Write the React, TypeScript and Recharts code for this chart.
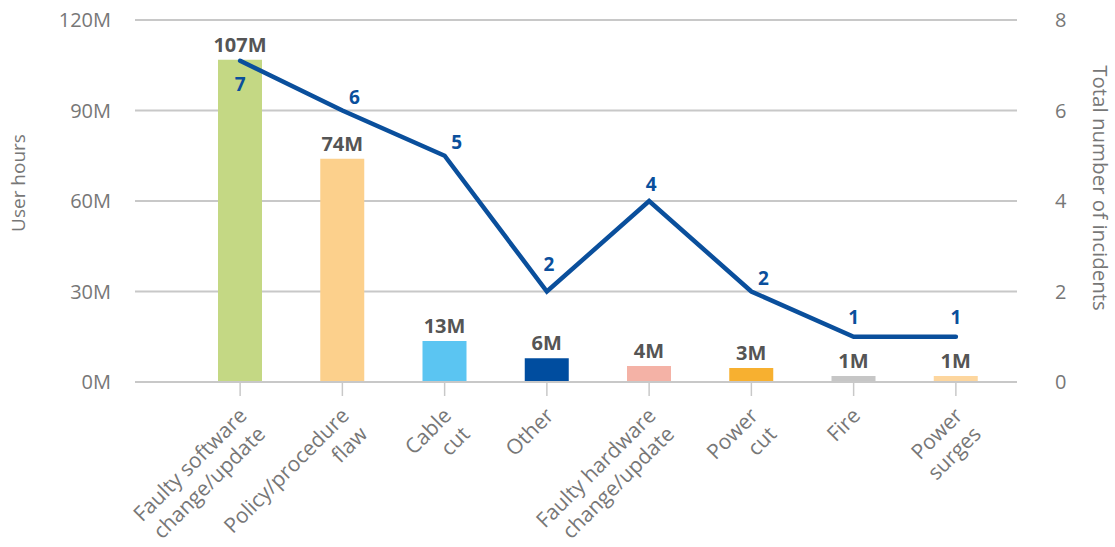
import { ComposedChart, Bar, Line, XAxis, YAxis, CartesianGrid, Cell, LabelList } from 'recharts';

const categories = [
    'Faulty software\nchange/update',
    'Policy/procedure\nflaw',
    'Cable\ncut',
    'Other',
    'Faulty hardware\nchange/update',
    'Power\ncut',
    'Fire',
    'Power\nsurges',
];
// bar heights as drawn, labels as printed
const userHours = [106.8, 74, 13.6, 7.9, 5.3, 4.6, 2, 2];
const userHourLabels = ['107M', '74M', '13M', '6M', '4M', '3M', '1M', '1M'];
const incidents = [7.1, 6, 5, 2, 4, 2, 1, 1];
const barColors = ['#c4d884', '#fcd08c', '#5bc5f2', '#004d9f', '#f4b2a6', '#f7b030', '#c6c6c6', '#fdd69e'];
const hourTicks = [0, 30, 60, 90, 120];
const incidentTicks = [0, 2, 4, 6, 8];

const data = categories.map((name, i) => ({
    name,
    hours: userHours[i],
    hoursLabel: userHourLabels[i],
    incidents: incidents[i],
}));

const BLUE = '#0a4f9c';
const GRID = '#c8c8c8';
const TEXT = '#777777';
const FONT = '"Open Sans", sans-serif';

function CategoryTick(props: any) {
    const { x, y, payload } = props;
    const lines = String(payload.value).split('\n');
    return (
        <g transform={`translate(${x + 8},${y + 19}) rotate(-45)`}>
            <text textAnchor="end" fill={TEXT} fontSize={21} fontFamily={FONT}>
                {lines.map((line, i) => (
                    <tspan key={i} x={0} dy={i === 0 ? 0 : 26}>{line}</tspan>
                ))}
            </text>
        </g>
    );
}

function IncidentLabel(props: any) {
    const { x, y, index, value } = props;
    const prev = incidents[index - 1];
    const next = incidents[index + 1];
    let dx = 12;
    let dy = -7;
    if (index === 0) {
        dx = 0; dy = 30;
    } else if (next === undefined || prev === value || next === value) {
        dx = 0; dy = -13;
    } else if (prev > value && next > value) {
        dx = 2; dy = -21;
    } else if (prev < value && next < value) {
        dx = 2; dy = -10;
    }
    return (
        <text x={x + dx} y={y + dy} textAnchor="middle" fill={BLUE} fontSize={19} fontWeight={700} fontFamily={FONT}>
            {Math.round(value)}
        </text>
    );
}

export default function App() {
    return (
        <div style={{ position: 'absolute', left: 0, top: 0, width: 1115, height: 547, background: '#fff', fontFamily: FONT }}>
            <ComposedChart width={1115} height={547} data={data} margin={{ top: 20, right: 0, bottom: 0, left: 0 }}>
                <CartesianGrid yAxisId="left" vertical={false} stroke={GRID} strokeWidth={2} />
                <XAxis
                    dataKey="name"
                    interval={0}
                    height={165}
                    padding={{ left: 54, right: 10 }}
                    axisLine={{ stroke: GRID, strokeWidth: 2 }}
                    tickLine={{ stroke: GRID, strokeWidth: 1.5 }}
                    tickSize={14}
                    tickMargin={2}
                    tick={<CategoryTick />}
                />
                <YAxis
                    yAxisId="left"
                    width={135}
                    domain={[0, 120]}
                    ticks={hourTicks}
                    tickFormatter={(v) => `${v}M`}
                    axisLine={false}
                    tickLine={false}
                    tickSize={16}
                    tickMargin={8}
                    tick={{ fill: TEXT, fontSize: 20, fontFamily: FONT }}
                />
                <YAxis
                    yAxisId="right"
                    orientation="right"
                    width={98}
                    domain={[0, 8]}
                    ticks={incidentTicks}
                    axisLine={false}
                    tickLine={false}
                    tickSize={30}
                    tickMargin={8}
                    tick={{ fill: TEXT, fontSize: 20, fontFamily: FONT }}
                />
                <Bar yAxisId="left" dataKey="hours" barSize={44} isAnimationActive={false}>
                    {data.map((_, i) => (
                        <Cell key={`bar-${i}`} fill={barColors[i]} />
                    ))}
                    <LabelList
                        dataKey="hoursLabel"
                        position="top"
                        offset={8}
                        fill="#555555"
                        fontSize={20}
                        fontWeight={700}
                        fontFamily={FONT}
                    />
                </Bar>
                <Line
                    yAxisId="right"
                    type="linear"
                    dataKey="incidents"
                    stroke={BLUE}
                    strokeWidth={4.5}
                    strokeLinecap="round"
                    dot={false}
                    activeDot={false}
                    isAnimationActive={false}
                >
                    <LabelList dataKey="incidents" content={<IncidentLabel />} />
                </Line>
            </ComposedChart>
            <div
                style={{
                    position: 'absolute', left: 18, top: 183, transform: 'translate(-50%, -50%) rotate(-90deg)',
                    whiteSpace: 'nowrap', fontSize: 19, lineHeight: 1, color: TEXT,
                }}
            >
                User hours
            </div>
            <div
                style={{
                    position: 'absolute', left: 1101, top: 188, transform: 'translate(-50%, -50%) rotate(90deg)',
                    whiteSpace: 'nowrap', fontSize: 20.5, lineHeight: 1, color: TEXT,
                }}
            >
                Total number of incidents
            </div>
        </div>
    );
}
